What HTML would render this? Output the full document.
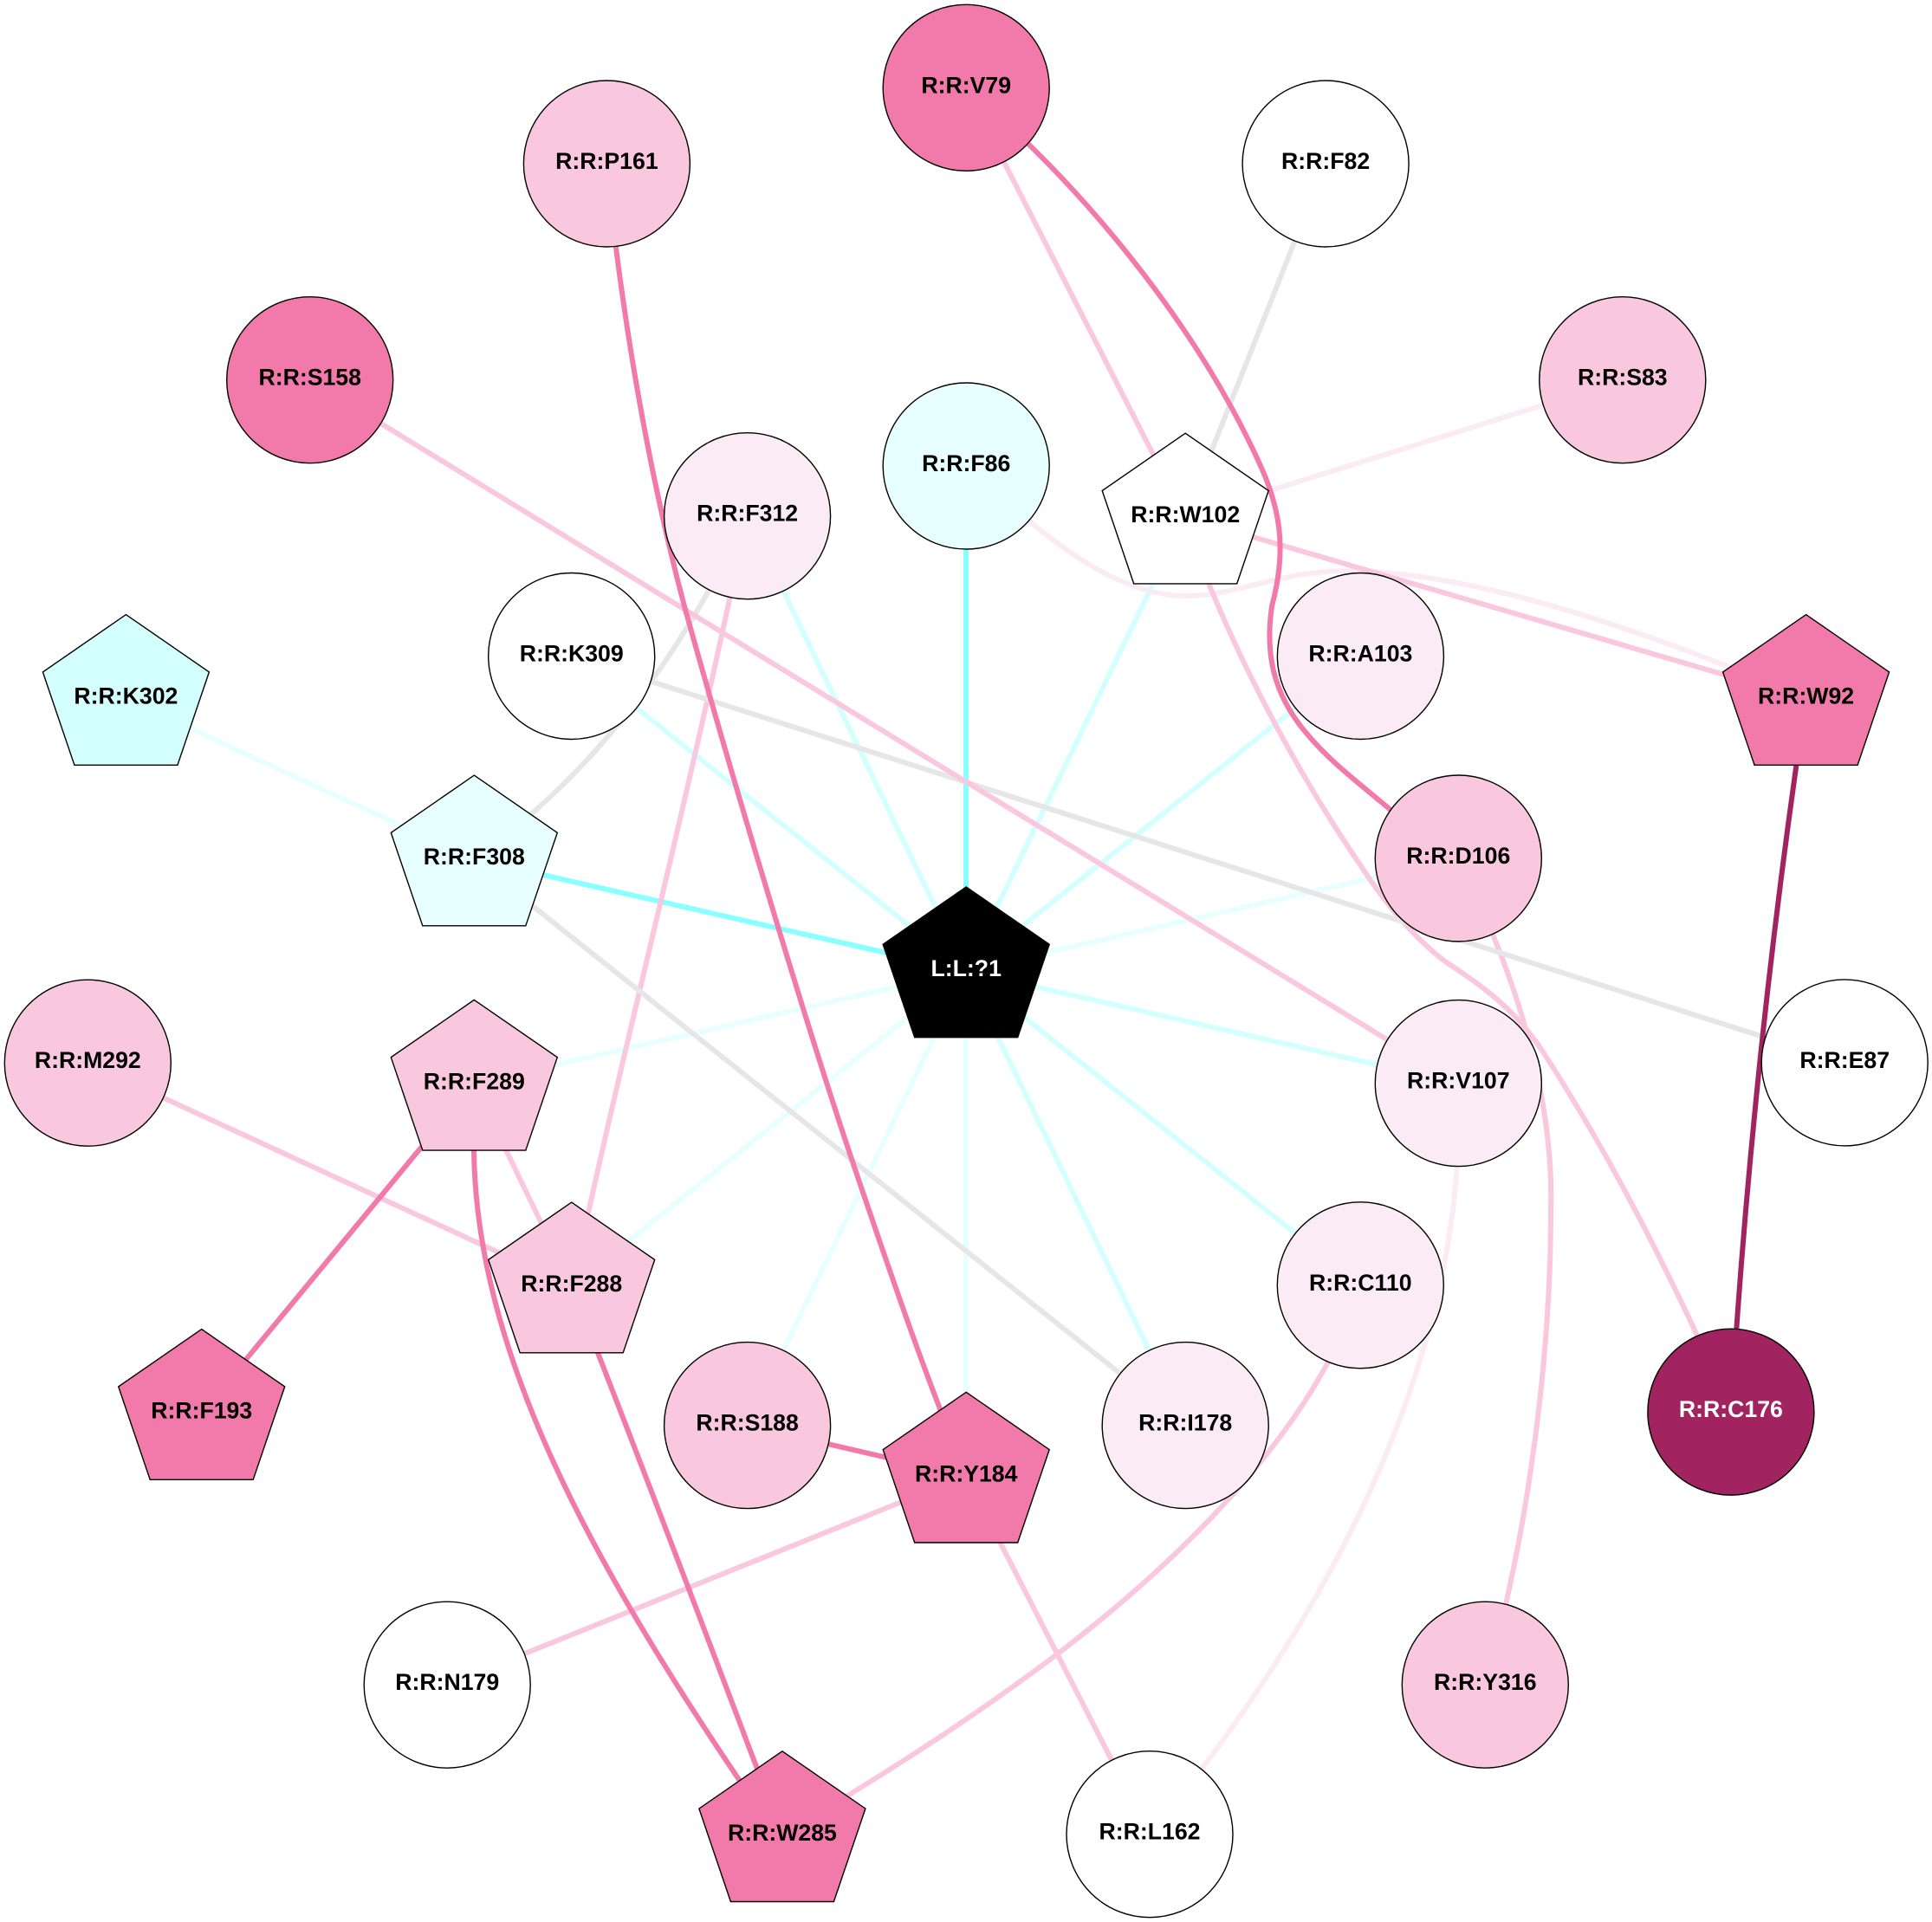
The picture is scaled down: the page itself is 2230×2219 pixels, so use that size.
<!DOCTYPE html>
<html>
<head>
<meta charset="utf-8">
<style>
html,body{margin:0;padding:0;background:#fff}
svg{display:block}
text{font-family:"Liberation Sans",Arial,sans-serif;font-weight:bold;font-size:26.67px;text-anchor:middle;fill:#000}
.e{fill:none;stroke-width:6}
.c1{stroke:#8affff}.c2{stroke:#d4ffff}.c3{stroke:#e8ffff}
.g{stroke:#e6e6e6}.p1{stroke:#f9c8de}.p0{stroke:#faebf4}.p2{stroke:#f27aab}.d{stroke:#a12460}
.n{stroke:#000;stroke-width:1.4}
.fp2{fill:#f27aab}.fp1{fill:#f9c8de}.fp0{fill:#faebf4}.fw{fill:#fff}.fc3{fill:#e8ffff}.fc2{fill:#d4ffff}.fd{fill:#a12460}
</style>
</head>
<body>
<svg xmlns="http://www.w3.org/2000/svg" width="2230" height="2219" viewBox="0 0 2230 2219">
<rect width="2230" height="2219" fill="#fff"/>
<!-- edges from ligand -->
<g class="e c3">
<path class="e" d="M1115,1121L1683,991"/>
<path class="e" d="M1115,1121L1115,1704"/>
<path class="e" d="M1115,1121L862.6,1645.6"/>
<path class="e" d="M1115,1121L660,1485"/>
<path class="e" d="M1115,1121L547,1251"/>
<path class="e" d="M145,806.6L547,992"/>
</g>
<g class="e c2">
<path class="e" d="M1115,1121L862.6,596"/>
<path class="e" d="M1115,1121L659.7,757.5"/>
<path class="e" d="M1115,1121L1368,597"/>
<path class="e" d="M1115,1121L1570.4,757.5"/>
<path class="e" d="M1115,1121L1683.3,1250.6"/>
<path class="e" d="M1115,1121L1570.3,1483.8"/>
<path class="e" d="M1115,1121L1368.2,1645.6"/>
</g>
<path class="e c1" d="M1115,1121L1115,538"/>
<path class="e c1" d="M1115,1121L547,992"/>
<!-- very light pink -->
<path class="e p0" d="M1873,439L1368,597"/>
<path class="e p0" d="M1115,538C1190,605 1280,690 1372,688C1430,687 1480,658 1560,659C1700,662 1880,720 2084,806"/>
<path class="e p0" d="M1683,1250C1695,1500 1590,1800 1327,2118"/>
<!-- light pink -->
<path class="e p1" d="M862,596C825,780 770,1010 725,1200S680,1400 660,1485"/>
<path class="e p1" d="M1683,991C1730,1085 1795,1240 1790,1400C1790,1560 1765,1770 1714,1945"/>
<path class="e p1" d="M1368,597C1395,690 1475,860 1571,1000C1600,1045 1635,1085 1668,1110C1705,1135 1745,1160 1780,1213C1850,1320 1930,1470 1998,1630"/>
<!-- grey -->
<path class="e g" d="M1530,189L1368,597"/>
<path class="e g" d="M862.6,596C820,685 745,825 613,940L547,992"/>
<path class="e g" d="M659.7,757.5L2129,1227"/>
<path class="e g" d="M547,992L1368,1645.6"/>
<!-- light pink straight -->
<path class="e p1" d="M1115,101L1368,597"/>
<path class="e p1" d="M1368,597L2084.6,806.6"/>
<path class="e p1" d="M357.7,438.7L1683.3,1250.6"/>
<path class="e p1" d="M547,1251L660,1485"/>
<path class="e p1" d="M101.3,1227.2L660,1485"/>
<path class="e p1" d="M516.2,1945.2L1115,1704"/>
<path class="e p1" d="M1115,1704L1327,2117.7"/>
<path class="e p1" d="M1570,1484C1530,1620 1403,1770 1220,1910C1140,1970 1060,2025 903,2119"/>
<!-- pink -->
<path class="e p2" d="M700,189C714,330 742,520 790,700C840,880 927,1173 987,1350C1047,1527 1070,1590 1115,1704"/>
<path class="e p2" d="M1115,101C1240,205 1380,370 1456,540C1480,594 1484,640 1468,700C1460,755 1470,800 1505,843C1535,880 1570,905 1605,935L1683,991"/>
<path class="e p2" d="M547,1251L547,1329C550,1560 680,1800 860,2065L903,2119"/>
<path class="e p2" d="M660,1485Q760,1740 903,2119"/>
<path class="e p2" d="M547,1251L232.7,1631.6"/>
<path class="e p2" d="M862.6,1645.6L1115,1704"/>
<!-- dark -->
<path class="e d" d="M2084.6,806.6Q2023,1218 1998,1630"/>

<!-- circle nodes -->
<circle class="n fp2" cx="1115.2" cy="101.3" r="96"/>
<circle class="n fp1" cx="700.4" cy="189" r="96"/>
<circle class="n fw" cx="1530.1" cy="189" r="96"/>
<circle class="n fp2" cx="357.7" cy="438.7" r="96"/>
<circle class="n fp1" cx="1872.8" cy="438.7" r="96"/>
<circle class="n fc3" cx="1115.2" cy="538" r="96"/>
<circle class="n fp0" cx="862.6" cy="595.7" r="96"/>
<circle class="n fw" cx="659.7" cy="757.5" r="96"/>
<circle class="n fp0" cx="1570.4" cy="757.5" r="96"/>
<circle class="n fp1" cx="1683.3" cy="991" r="96"/>
<circle class="n fp1" cx="101.3" cy="1227.2" r="96"/>
<circle class="n fw" cx="2129.2" cy="1226.9" r="96"/>
<circle class="n fp0" cx="1683.3" cy="1250.6" r="96"/>
<circle class="n fp0" cx="1570.3" cy="1483.8" r="96"/>
<circle class="n fp1" cx="862.6" cy="1645.6" r="96"/>
<circle class="n fp0" cx="1368.2" cy="1645.6" r="96"/>
<circle class="n fd" cx="1997.9" cy="1630.2" r="96"/>
<circle class="n fw" cx="516.2" cy="1945.2" r="96"/>
<circle class="n fp1" cx="1714.3" cy="1945.2" r="96"/>
<circle class="n fw" cx="1327" cy="2117.7" r="96"/>

<!-- pentagon nodes -->
<polygon class="n fw" transform="translate(1368.2,500.2)" points="0,0 96,66.3 59.5,173.7 -59.5,173.7 -96,66.3"/>
<polygon class="n fc2" transform="translate(145.4,709.6)" points="0,0 96,66.3 59.5,173.7 -59.5,173.7 -96,66.3"/>
<polygon class="n fp2" transform="translate(2084.6,709.6)" points="0,0 96,66.3 59.5,173.7 -59.5,173.7 -96,66.3"/>
<polygon class="n fc3" transform="translate(547.3,895.1)" points="0,0 96,66.3 59.5,173.7 -59.5,173.7 -96,66.3"/>
<polygon class="n fp1" transform="translate(547.3,1154.4)" points="0,0 96,66.3 59.5,173.7 -59.5,173.7 -96,66.3"/>
<polygon class="n fp1" transform="translate(659.7,1388.1)" points="0,0 96,66.3 59.5,173.7 -59.5,173.7 -96,66.3"/>
<polygon class="n fp2" transform="translate(232.7,1534.6)" points="0,0 96,66.3 59.5,173.7 -59.5,173.7 -96,66.3"/>
<polygon class="n fp2" transform="translate(1115.2,1607.3)" points="0,0 96,66.3 59.5,173.7 -59.5,173.7 -96,66.3"/>
<polygon class="n fp2" transform="translate(902.9,2021.8)" points="0,0 96,66.3 59.5,173.7 -59.5,173.7 -96,66.3"/>
<polygon fill="#000" stroke="#000" stroke-width="1.4" transform="translate(1115.2,1024)" points="0,0 96,66.3 59.5,173.7 -59.5,173.7 -96,66.3"/>

<!-- labels -->
<text x="1115.2" y="107.3">R:R:V79</text>
<text x="700.4" y="195">R:R:P161</text>
<text x="1530.1" y="195">R:R:F82</text>
<text x="357.7" y="444.7">R:R:S158</text>
<text x="1872.8" y="444.7">R:R:S83</text>
<text x="1115.2" y="544">R:R:F86</text>
<text x="862.6" y="601.7">R:R:F312</text>
<text x="659.7" y="763.5">R:R:K309</text>
<text x="1570.4" y="763.5">R:R:A103</text>
<text x="1683.3" y="997">R:R:D106</text>
<text x="101.3" y="1233.2">R:R:M292</text>
<text x="2129.2" y="1232.9">R:R:E87</text>
<text x="1683.3" y="1256.6">R:R:V107</text>
<text x="1570.3" y="1489.8">R:R:C110</text>
<text x="862.6" y="1651.6">R:R:S188</text>
<text x="1368.2" y="1651.6">R:R:I178</text>
<text x="1997.9" y="1636.2" style="fill:#fff">R:R:C176</text>
<text x="516.2" y="1951.2">R:R:N179</text>
<text x="1714.3" y="1951.2">R:R:Y316</text>
<text x="1327" y="2123.7">R:R:L162</text>
<text x="1368.2" y="603.2">R:R:W102</text>
<text x="145.4" y="812.6">R:R:K302</text>
<text x="2084.6" y="812.6">R:R:W92</text>
<text x="547.3" y="998.1">R:R:F308</text>
<text x="547.3" y="1257.4">R:R:F289</text>
<text x="659.7" y="1491.1">R:R:F288</text>
<text x="232.7" y="1637.6">R:R:F193</text>
<text x="1115.2" y="1710.3">R:R:Y184</text>
<text x="902.9" y="2124.8">R:R:W285</text>
<text x="1115.2" y="1127" style="fill:#fff">L:L:?1</text>
</svg>
</body>
</html>
